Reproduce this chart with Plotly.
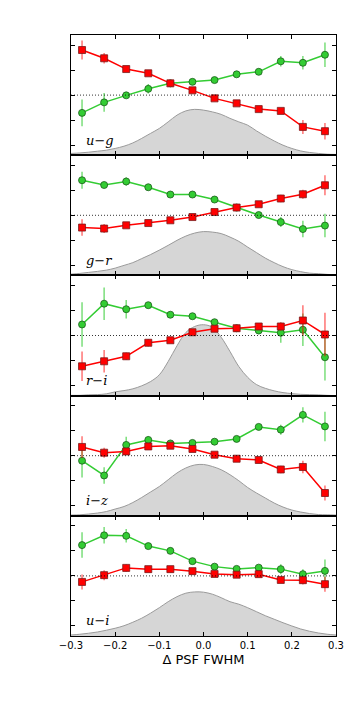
import plotly.graph_objs as go
from plotly.subplots import make_subplots

# bin centres of the colour-offset points
x_pts = [-0.275, -0.225, -0.175, -0.125, -0.075, -0.025, 0.025, 0.075, 0.125, 0.175, 0.225, 0.275]

# histogram bin centres
hist_x = [-0.30, -0.28, -0.26, -0.24, -0.22, -0.20, -0.18, -0.16, -0.14, -0.12, -0.10,
          -0.08, -0.06, -0.04, -0.02, 0.00, 0.02, 0.04, 0.06, 0.08, 0.10,
          0.12, 0.14, 0.16, 0.18, 0.20, 0.22, 0.24, 0.26, 0.28, 0.30]

panel_labels = ['<i>u</i>\u2212<i>g</i>', '<i>g</i>\u2212<i>r</i>', '<i>r</i>\u2212<i>i</i>',
                '<i>i</i>\u2212<i>z</i>', '<i>u</i>\u2212<i>i</i>']

# u-g
ug_red = [1.8, 1.47, 1.04, 0.87, 0.47, 0.19, -0.13, -0.33, -0.56, -0.63, -1.27, -1.44]
ug_red_err = [0.38, 0.21, 0.12, 0.1, 0.1, 0.08, 0.1, 0.1, 0.1, 0.1, 0.28, 0.33]
ug_green = [-0.71, -0.29, -0.01, 0.25, 0.47, 0.53, 0.6, 0.83, 0.93, 1.35, 1.29, 1.61]
ug_green_err = [0.53, 0.37, 0.1, 0.19, 0.08, 0.08, 0.08, 0.1, 0.08, 0.21, 0.27, 0.49]
ug_hist = [0.07, 0.09, 0.12, 0.16, 0.2, 0.27, 0.36, 0.49, 0.67, 0.87, 1.07, 1.33, 1.6, 1.77, 1.83,
           1.8, 1.73, 1.63, 1.47, 1.33, 1.2, 0.97, 0.76, 0.57, 0.4, 0.27, 0.17, 0.11, 0.07, 0.04, 0.03]

# g-r
gr_red = [-0.49, -0.53, -0.4, -0.31, -0.2, -0.07, 0.13, 0.31, 0.44, 0.67, 0.84, 1.2]
gr_red_err = [0.33, 0.18, 0.1, 0.08, 0.08, 0.08, 0.08, 0.1, 0.1, 0.15, 0.18, 0.4]
gr_green = [1.4, 1.21, 1.35, 1.12, 0.83, 0.83, 0.63, 0.31, 0.01, -0.27, -0.55, -0.41]
gr_green_err = [0.34, 0.12, 0.17, 0.1, 0.08, 0.08, 0.08, 0.08, 0.1, 0.2, 0.33, 0.47]
gr_hist = [0.05, 0.08, 0.12, 0.16, 0.21, 0.29, 0.4, 0.51, 0.67, 0.83, 1.01, 1.2, 1.4, 1.57, 1.69,
           1.75, 1.73, 1.67, 1.53, 1.36, 1.13, 0.91, 0.69, 0.51, 0.35, 0.23, 0.15, 0.09, 0.07, 0.04, 0.03]

# r-i
ri_red = [-1.23, -1.03, -0.83, -0.29, -0.19, 0.13, 0.27, 0.29, 0.36, 0.36, 0.6, 0.04]
ri_red_err = [0.59, 0.45, 0.15, 0.15, 0.08, 0.08, 0.08, 0.08, 0.1, 0.17, 0.61, 0.87]
ri_green = [0.44, 1.27, 1.05, 1.21, 0.83, 0.77, 0.53, 0.29, 0.2, 0.11, 0.23, -0.87]
ri_green_err = [0.89, 0.65, 0.37, 0.1, 0.08, 0.08, 0.08, 0.1, 0.15, 0.4, 0.65, 0.93]
ri_hist = [0.01, 0.01, 0.03, 0.04, 0.07, 0.15, 0.2, 0.27, 0.39, 0.56, 0.83, 1.36, 1.99, 2.52, 2.76,
           2.83, 2.73, 2.33, 1.76, 1.16, 0.73, 0.44, 0.29, 0.19, 0.12, 0.08, 0.05, 0.04, 0.03, 0.01, 0.0]

# i-z
iz_red = [0.35, 0.12, 0.17, 0.37, 0.4, 0.27, 0.04, -0.12, -0.17, -0.55, -0.45, -1.49]
iz_red_err = [0.43, 0.2, 0.1, 0.1, 0.08, 0.08, 0.08, 0.08, 0.1, 0.15, 0.25, 0.3]
iz_green = [-0.2, -0.79, 0.43, 0.63, 0.49, 0.51, 0.56, 0.67, 1.15, 1.04, 1.63, 1.17]
iz_green_err = [0.67, 0.33, 0.33, 0.15, 0.08, 0.08, 0.08, 0.08, 0.12, 0.2, 0.3, 0.59]
iz_hist = [0.03, 0.04, 0.07, 0.11, 0.17, 0.27, 0.37, 0.53, 0.73, 0.95, 1.17, 1.44, 1.71, 1.91, 2.03,
           2.05, 1.97, 1.84, 1.64, 1.4, 1.13, 0.91, 0.71, 0.51, 0.35, 0.23, 0.15, 0.09, 0.05, 0.04, 0.03]

# u-i
ui_red = [-0.24, 0.03, 0.32, 0.27, 0.27, 0.19, 0.08, 0.05, 0.07, -0.16, -0.17, -0.33]
ui_red_err = [0.3, 0.2, 0.15, 0.08, 0.08, 0.08, 0.08, 0.1, 0.1, 0.1, 0.17, 0.3]
ui_green = [1.23, 1.62, 1.6, 1.19, 1.0, 0.59, 0.37, 0.28, 0.33, 0.27, 0.07, 0.2]
ui_green_err = [0.51, 0.33, 0.27, 0.1, 0.08, 0.08, 0.08, 0.08, 0.1, 0.2, 0.2, 0.45]
ui_hist = [0.04, 0.07, 0.11, 0.16, 0.23, 0.31, 0.41, 0.55, 0.71, 0.91, 1.13, 1.37, 1.57, 1.71, 1.76,
           1.75, 1.67, 1.53, 1.37, 1.27, 1.13, 0.97, 0.81, 0.67, 0.53, 0.4, 0.28, 0.19, 0.12, 0.07, 0.04]

panels = [
    (ug_red, ug_red_err, ug_green, ug_green_err, ug_hist),
    (gr_red, gr_red_err, gr_green, gr_green_err, gr_hist),
    (ri_red, ri_red_err, ri_green, ri_green_err, ri_hist),
    (iz_red, iz_red_err, iz_green, iz_green_err, iz_hist),
    (ui_red, ui_red_err, ui_green, ui_green_err, ui_hist),
]

YMIN, YMAX = -2.4, 2.4

fig = make_subplots(rows=5, cols=1, shared_xaxes=True, vertical_spacing=0)

for i, (red, red_err, green, green_err, hist) in enumerate(panels):
    row = i + 1
    # baseline for the histogram fill
    fig.add_trace(go.Scatter(x=hist_x, y=[YMIN] * len(hist_x), mode='lines',
                             line=dict(width=0, color='rgba(0,0,0,0)'),
                             showlegend=False, hoverinfo='skip'), row=row, col=1)
    fig.add_trace(go.Scatter(x=hist_x, y=[YMIN + h for h in hist], mode='lines',
                             line=dict(color='#9a9a9a', width=1, shape='spline'),
                             fill='tonexty', fillcolor='#d6d6d6',
                             showlegend=False), row=row, col=1)
    fig.add_hline(y=0, line=dict(color='black', width=0.8, dash='1px,2px'), row=row, col=1)
    fig.add_trace(go.Scatter(x=x_pts, y=green, mode='lines+markers',
                             line=dict(color='#33cc33', width=1.5),
                             marker=dict(symbol='circle', size=7, color='#33cc33',
                                         line=dict(color='#1a5c1a', width=0.8)),
                             error_y=dict(type='data', array=green_err, color='rgba(51,204,51,0.65)',
                                          thickness=1.5, width=0),
                             showlegend=False), row=row, col=1)
    fig.add_trace(go.Scatter(x=x_pts, y=red, mode='lines+markers',
                             line=dict(color='#ff0000', width=1.5),
                             marker=dict(symbol='square', size=7, color='#ff0000',
                                         line=dict(color='#7a1a1a', width=0.8)),
                             error_y=dict(type='data', array=red_err, color='rgba(255,0,0,0.55)',
                                          thickness=1.5, width=0),
                             showlegend=False), row=row, col=1)
    fig.add_annotation(x=-0.27, y=-1.8, xref=f'x{row if row > 1 else ""}',
                       yref=f'y{row if row > 1 else ""}', text=panel_labels[i],
                       showarrow=False, xanchor='left', yanchor='middle',
                       font=dict(family='DejaVu Serif', size=13, color='black'))
    fig.update_yaxes(range=[YMIN, YMAX], tickvals=[-2, -1, 0, 1, 2], showticklabels=False,
                     ticks='inside', ticklen=4, tickcolor='black', showline=True,
                     linecolor='black', linewidth=1, mirror='allticks', showgrid=False,
                     zeroline=False, row=row, col=1)
    fig.update_xaxes(range=[-0.3, 0.3], tickvals=[-0.3, -0.2, -0.1, 0, 0.1, 0.2, 0.3],
                     ticks='inside', ticklen=4, tickcolor='black', showline=True,
                     linecolor='black', linewidth=1, mirror='allticks', showgrid=False,
                     zeroline=False, row=row, col=1)

fig.update_xaxes(tickformat='.1f', tickfont=dict(family='DejaVu Sans', size=10, color='black'),
                 title=dict(text='\u0394 PSF FWHM', font=dict(family='DejaVu Sans', size=13, color='black'),
                            standoff=4),
                 row=5, col=1)

# the page body adds an 8px offset, so margins are reduced on the top/left
fig.update_layout(width=354, height=708, margin=dict(l=63, r=26, t=27, b=80),
                  plot_bgcolor='white', paper_bgcolor='white', showlegend=False)

fig.write_html("out.html")
